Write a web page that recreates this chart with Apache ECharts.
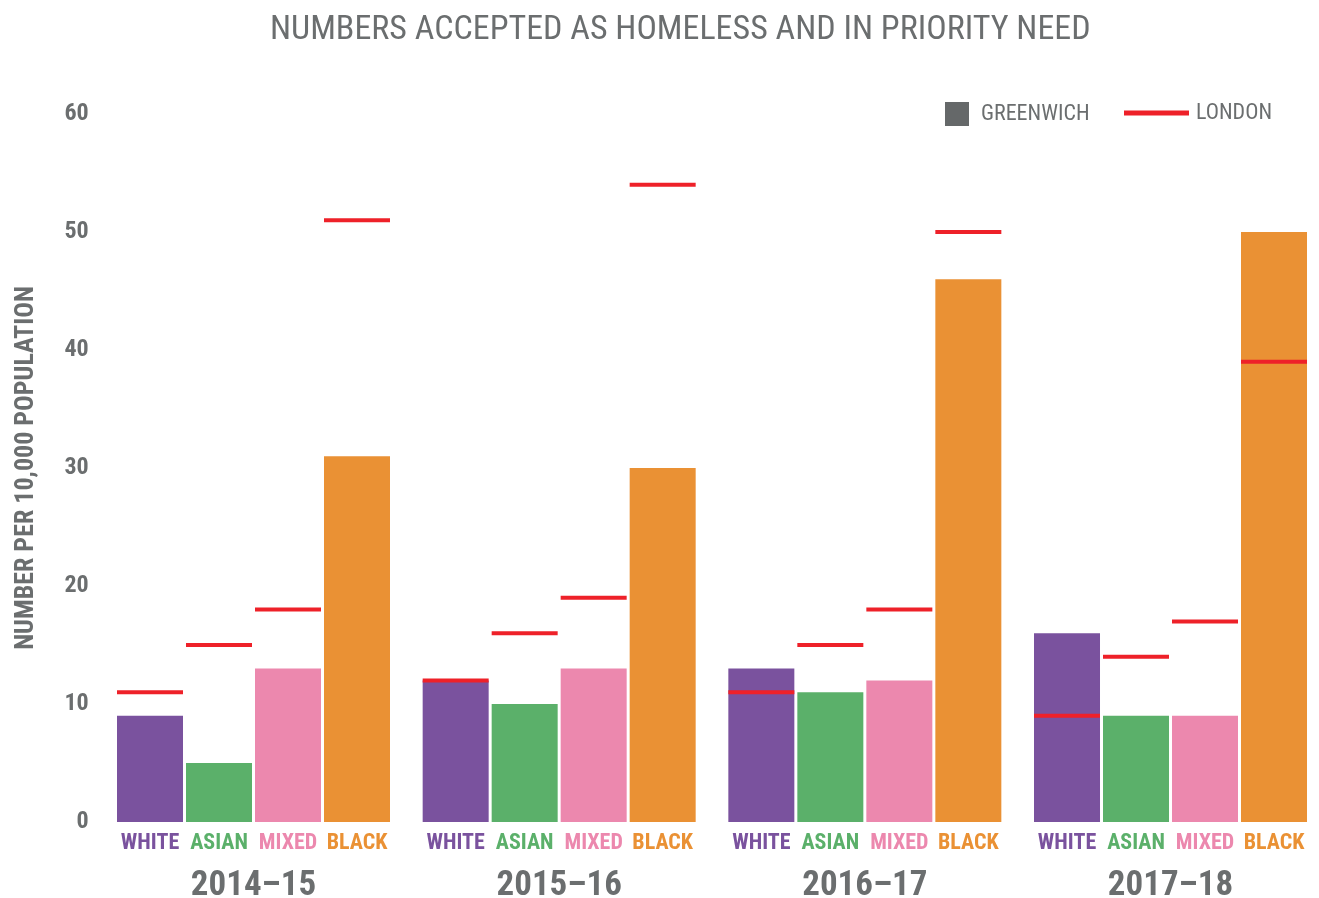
<!DOCTYPE html>
<html>
<head>
<meta charset="utf-8">
<script src="https://cdn.jsdelivr.net/npm/echarts@6/dist/echarts.min.js"></script>
<style>html,body{margin:0;padding:0;background:#fff;overflow:hidden}#c{width:1326px;height:898px}</style>
</head>
<body>
<div id="c"></div>
<script>
const years = ['2014–15', '2015–16', '2016–17', '2017–18'];
const groups = ['WHITE', 'ASIAN', 'MIXED', 'BLACK'];
const greenwichWhite = [9, 12, 13, 16];
const greenwichAsian = [5, 10, 11, 9];
const greenwichMixed = [13, 13, 12, 9];
const greenwichBlack = [31, 30, 46, 50];
const londonWhite = [11, 12, 11, 9];
const londonAsian = [15, 16, 15, 14];
const londonMixed = [18, 19, 18, 17];
const londonBlack = [51, 54, 50, 39];
const yTicks = [0, 10, 20, 30, 40, 50, 60];

const FONT = "'Liberation Sans Narrow', 'Roboto Condensed', 'DejaVu Sans Condensed', sans-serif";
const GRAY = '#6b6e6f';
const colors = ['#7a529e', '#5bb06a', '#ec88ae', '#ea9134'];
const greenwich = [greenwichWhite, greenwichAsian, greenwichMixed, greenwichBlack];
const london = [londonWhite, londonAsian, londonMixed, londonBlack];

const BAR_W = 66, BAR_GAP = 3;
const GROUP_W = 4 * BAR_W + 3 * BAR_GAP;

const barSeries = groups.map((g, i) => ({
  name: g,
  type: 'bar',
  data: greenwich[i],
  barWidth: BAR_W,
  barGap: (BAR_GAP / BAR_W * 100) + '%',
  itemStyle: { color: colors[i] },
  label: {
    show: true,
    position: 'bottom',
    distance: 10,
    formatter: '{a}',
    color: colors[i],
    fontFamily: FONT,
    fontWeight: 'bold',
    fontSize: 22
  },
  z: 2
}));

const londonData = [];
london.forEach((arr, gi) => arr.forEach((v, yi) => londonData.push([yi, gi, v])));

const chart = echarts.init(document.getElementById('c'), null, { renderer: 'canvas' });
chart.setOption({
  animation: false,
  title: {
    text: 'NUMBERS ACCEPTED AS HOMELESS AND IN PRIORITY NEED',
    left: 270,
    top: 8,
    padding: [5, 0, 5, 0],
    textStyle: { fontFamily: FONT, fontWeight: 'normal', fontSize: 34, color: GRAY }
  },
  legend: [
    {
      data: [{ name: 'GREENWICH', icon: 'rect' }],
      left: 945,
      top: 102,
      padding: 0,
      itemWidth: 24,
      itemHeight: 24,
      itemGap: 12,
      textStyle: { fontFamily: FONT, fontSize: 22, color: GRAY, padding: [4, 0, 0, 7] }
    },
    {
      data: [{ name: 'LONDON', icon: 'rect' }],
      left: 1124,
      top: 102,
      padding: 0,
      itemWidth: 65,
      itemHeight: 5,
      itemGap: 8,
      textStyle: { fontFamily: FONT, fontSize: 22, color: GRAY, padding: [4, 0, 0, 2] }
    }
  ],
  grid: { left: 100.67, width: 1222.67, top: 114, height: 708, containLabel: false, outerBoundsMode: 'none' },
  xAxis: {
    type: 'category',
    data: years,
    axisLine: { show: false },
    axisTick: { show: false },
    axisLabel: { margin: 47, fontFamily: FONT, fontWeight: 'bold', fontSize: 35, color: GRAY }
  },
  yAxis: {
    type: 'value',
    min: yTicks[0],
    max: yTicks[yTicks.length - 1],
    interval: 10,
    name: 'NUMBER PER 10,000 POPULATION',
    nameLocation: 'middle',
    nameGap: 61,
    nameTextStyle: { fontFamily: FONT, fontWeight: 'bold', fontSize: 26, color: GRAY },
    axisLine: { show: false },
    axisTick: { show: false },
    splitLine: { show: false },
    axisLabel: { margin: 12, padding: [7, 0, 0, 0], fontFamily: FONT, fontWeight: 'bold', fontSize: 24, color: GRAY }
  },
  series: [
    ...barSeries,
    {
      name: 'GREENWICH',
      type: 'scatter',
      data: [],
      itemStyle: { color: '#656869', opacity: 1 }
    },
    {
      name: 'LONDON',
      type: 'custom',
      data: londonData,
      encode: { x: 0, y: 2 },
      itemStyle: { color: '#ee2129' },
      z: 5,
      renderItem: function (params, api) {
        const c = api.coord([api.value(0), api.value(2)]);
        const x = c[0] - GROUP_W / 2 + api.value(1) * (BAR_W + BAR_GAP);
        return {
          type: 'rect',
          shape: { x: x, y: c[1] - 2, width: BAR_W, height: 4 },
          style: { fill: '#ee2129' }
        };
      }
    }
  ]
});
</script>
</body>
</html>
